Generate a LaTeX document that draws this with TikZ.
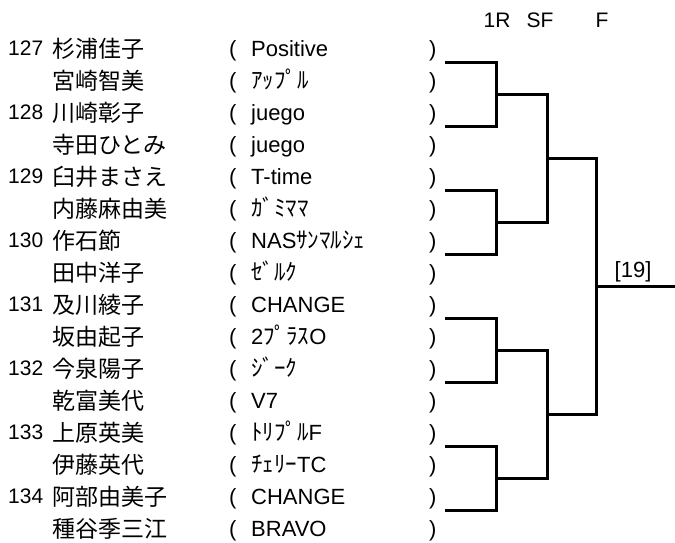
\documentclass[tikz,border=0pt]{standalone}
\usepackage{fontspec}
\setmainfont{Liberation Sans}
\newfontfamily\jpfam{Noto Sans CJK JP}
\newcommand\jp{\jpfam\fontsize{23}{27}\selectfont}
\usetikzlibrary{positioning}

\tikzset{
  cell/.style={anchor=base west, inner sep=0pt, font=\fontsize{22}{26}\selectfont},
  seed/.style={cell, font=\fontsize{21}{25}\selectfont},
  head/.style={anchor=base, inner sep=0pt, font=\fontsize{21}{25}\selectfont},
  bracket/.style={line width=3pt, line join=miter}
}

\begin{document}
\begin{tikzpicture}[x=1pt,y=-1pt]
  \useasboundingbox (0,0) rectangle (675,542);
  % round headings
  \node[head] (r1) at (497,27) {1R};
  \node[head] (sf) at (540,27) {SF};
  \node[head] (fn) at (602,27) {F};
  % pair numbers
  \foreach \num [count=\k from 0] in {127,128,129,130,131,132,133,134}
    \node[seed] (n\num) at (8,{55.5+64*\k}) {\num};
  % players and clubs
  \foreach \name/\team [count=\i from 0] in {
      杉浦佳子/Positive,
      宮崎智美/{\jp ｱｯﾌﾟﾙ},
      川崎彰子/juego,
      寺田ひとみ/juego,
      臼井まさえ/T-time,
      内藤麻由美/{\jp ｶﾞﾐﾏﾏ},
      作石節/{NAS{\jp ｻﾝﾏﾙｼｪ}},
      田中洋子/{\jp ｾﾞﾙｸ},
      及川綾子/CHANGE,
      坂由起子/{2{\jp ﾌﾟﾗｽ}O},
      今泉陽子/{\jp ｼﾞｰｸ},
      乾富美代/V7,
      上原英美/{{\jp ﾄﾘﾌﾟﾙ}F},
      伊藤英代/{{\jp ﾁｪﾘｰ}TC},
      阿部由美子/CHANGE,
      種谷季三江/BRAVO}{
    \node[cell] (name\i) at (52,{57+32*\i}) {\jp\name};
    \node[cell] (lp\i) at (229,{56+32*\i}) {(};
    \node[cell] (team\i) at (251,{56+32*\i}) {\team};
    \node[cell] (rp\i) at (429,{56+32*\i}) {)};
  }
  % bracket
  \foreach \j in {1,...,8}
    \coordinate (e\j) at (445,{62.5+64*(\j-1)});
  \foreach \j in {1,...,4}
    \coordinate (m\j) at (496,{94.5+128*(\j-1)});
  \coordinate (s1) at (547,158.5);
  \coordinate (s2) at (547,414.5);
  \coordinate (f) at (596.5,286.5);
  \coordinate (w) at (675,286.5);
  \draw[bracket] (e1) -| (m1) |- (e2)
                 (e3) -| (m2) |- (e4)
                 (e5) -| (m3) |- (e6)
                 (e7) -| (m4) |- (e8);
  \draw[bracket] (m1) -| (s1) |- (m2)
                 (m3) -| (s2) |- (m4);
  \draw[bracket] (s1) -| (f) |- (s2);
  \draw[bracket] (f) -- (w);
  \node[cell, anchor=south west] (score) [above right=4.5pt and 18pt of f] {[19]};
\end{tikzpicture}
\end{document}
